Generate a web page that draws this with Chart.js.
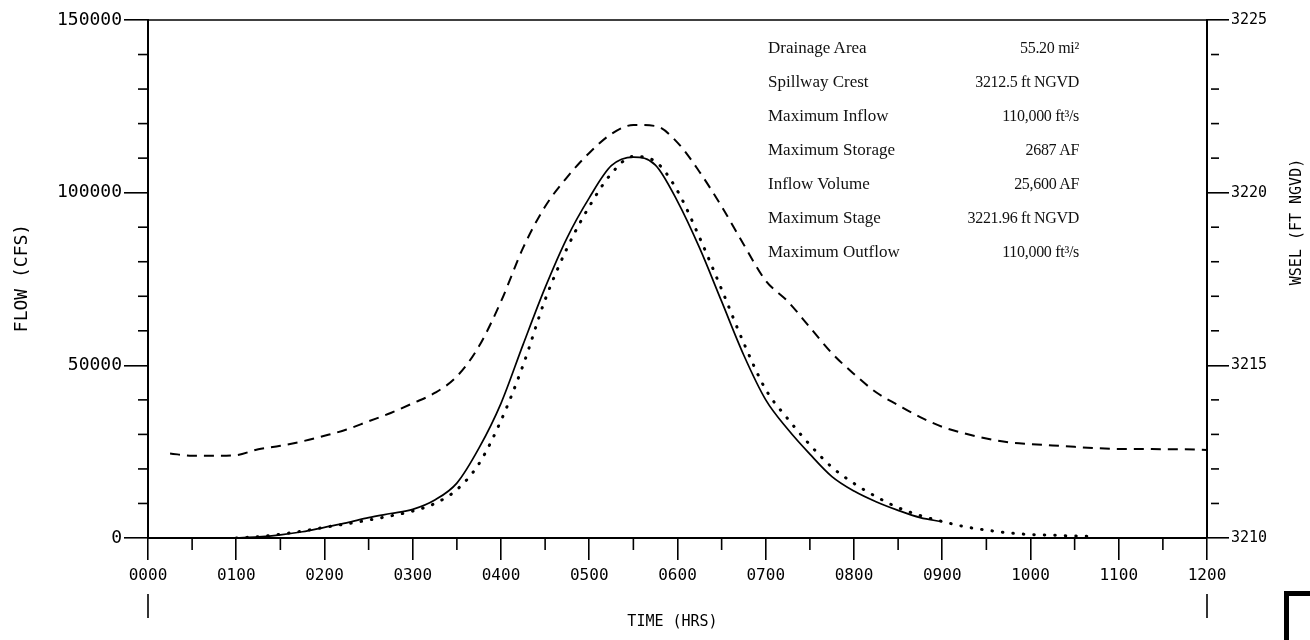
<!DOCTYPE html>
<html>
<head>
<meta charset="utf-8">
<script src="https://cdn.jsdelivr.net/npm/chart.js@4"></script>
<style>
  html, body { margin: 0; padding: 0; background: #fff; }
  #wrap { position: relative; width: 1310px; height: 640px; overflow: hidden; }
  #info { position: absolute; left: 768px; top: 31px; width: 311px; font-family: "Liberation Serif", serif; font-size: 17px; color: #111; }
  #info .row { height: 34px; line-height: 34px; display: flex; justify-content: space-between; }
  #info .val { font-size: 16px; letter-spacing: -0.3px; }
  #corner { position: absolute; left: 1284px; top: 591px; width: 40px; height: 60px; border-left: 5px solid #000; border-top: 5px solid #000; }
</style>
</head>
<body>
<div id="wrap">
  <canvas id="hydrograph" width="1310" height="640"></canvas>
  <div id="info"></div>
  <div id="corner"></div>
</div>
<script>
// time in hours, 15 minute steps
const timeHrs = [0, 0.25, 0.5, 0.75, 1, 1.25, 1.5, 1.75, 2, 2.25, 2.5, 2.75, 3, 3.25, 3.5, 3.75, 4, 4.25, 4.5, 4.75, 5, 5.25, 5.5, 5.75, 6, 6.25, 6.5, 6.75, 7, 7.25, 7.5, 7.75, 8, 8.25, 8.5, 8.75, 9, 9.25, 9.5, 9.75, 10, 10.25, 10.5, 10.75, 11, 11.25, 11.5, 11.75, 12];

// solid line (cfs)
const inflowCfs = [null, null, null, null, 0, 300, 900, 1800, 3100, 4400, 5900, 7100, 8300, 11000, 15900, 26000, 39000, 56000, 72500, 87000, 98500, 107800, 110300, 108000, 97500, 84000, 68500, 53000, 40000, 31500, 24300, 17800, 13600, 10500, 8000, 5900, 4700, null, null, null, null, null, null, null, null, null, null, null, null];

// dotted line (cfs)
const outflowCfs = [null, null, null, null, 0, 400, 1100, 2000, 3100, 4100, 5200, 6400, 7800, 10000, 14000, 21500, 34000, 50000, 69000, 84000, 96000, 105500, 110500, 109000, 100500, 87000, 72000, 56500, 43000, 34500, 27000, 20500, 15800, 12000, 8800, 6500, 4800, 3300, 2300, 1500, 1000, 800, 600, 500, null, null, null, null, null];

// dashed line, water surface elevation (ft NGVD)
const wselFt = [null, 3212.45, 3212.38, 3212.38, 3212.40, 3212.57, 3212.67, 3212.80, 3212.96, 3213.14, 3213.38, 3213.62, 3213.90, 3214.20, 3214.68, 3215.55, 3216.85, 3218.40, 3219.60, 3220.45, 3221.15, 3221.70, 3221.96, 3221.93, 3221.45, 3220.60, 3219.60, 3218.50, 3217.45, 3216.85, 3216.10, 3215.35, 3214.75, 3214.22, 3213.85, 3213.50, 3213.22, 3213.03, 3212.88, 3212.77, 3212.72, 3212.68, 3212.64, 3212.60, 3212.58, 3212.58, 3212.57, 3212.57, 3212.55];

const infoLabels = ["Drainage Area", "Spillway Crest", "Maximum Inflow", "Maximum Storage", "Inflow Volume", "Maximum Stage", "Maximum Outflow"];
const infoValues = ["55.20 mi\u00b2", "3212.5 ft NGVD", "110,000 ft\u00b3/s", "2687 AF", "25,600 AF", "3221.96 ft NGVD", "110,000 ft\u00b3/s"];

const flowTitle = "FLOW (CFS)";
const wselTitle = "WSEL (FT NGVD)";
const timeTitle = "TIME (HRS)";

const plotFont = '"DejaVu Sans Mono", monospace';

document.getElementById("info").innerHTML = infoLabels
  .map((label, i) => `<div class="row"><span>${label}</span><span class="val">${infoValues[i]}</span></div>`)
  .join("");

const toPoints = (values) => timeHrs.map((t, i) => ({ x: t, y: values[i] }));

// minor ticks, frame top, axis titles
const plotterDecor = {
  id: "plotterDecor",
  afterDraw(chart) {
    const { ctx, chartArea } = chart;
    const { x, y, y2 } = chart.scales;
    const seg = (x1, y1, x2, y2p) => { ctx.beginPath(); ctx.moveTo(x1, y1); ctx.lineTo(x2, y2p); ctx.stroke(); };
    ctx.save();
    ctx.strokeStyle = "#000";
    ctx.lineWidth = 1.6;
    seg(chartArea.left - 1, chartArea.top, chartArea.right + 1, chartArea.top);
    for (let v = 10000; v < 150000; v += 10000) {
      if (v % 50000 === 0) continue;
      const py = y.getPixelForValue(v);
      seg(chartArea.left - 10, py, chartArea.left, py);
    }
    for (let v = 3211; v < 3225; v += 1) {
      if (v % 5 === 0) continue;
      const py = y2.getPixelForValue(v);
      seg(chartArea.right + 4, py, chartArea.right + 12, py);
    }
    for (let h = 0.5; h < 12; h += 1) {
      const px = x.getPixelForValue(h);
      seg(px, chartArea.bottom, px, chartArea.bottom + 12);
    }
    [0, 12].forEach((h) => {
      const px = x.getPixelForValue(h);
      seg(px, chartArea.bottom + 56, px, chartArea.bottom + 80);
    });
    ctx.fillStyle = "#000";
    ctx.textAlign = "center";
    ctx.textBaseline = "middle";
    ctx.font = "15px " + plotFont;
    ctx.fillText(timeTitle, (chartArea.left + chartArea.right) / 2 - 5, 622);
    ctx.save();
    ctx.translate(1297, 222);
    ctx.rotate(-Math.PI / 2);
    ctx.fillText(wselTitle, 0, 0);
    ctx.restore();
    ctx.save();
    ctx.font = "18px " + plotFont;
    ctx.translate(22, 278);
    ctx.rotate(-Math.PI / 2);
    ctx.fillText(flowTitle, 0, 0);
    ctx.restore();
    ctx.restore();
  }
};

const axisGrid = (len) => ({ drawOnChartArea: false, drawTicks: true, tickLength: len, color: "#000", lineWidth: 1.6 });
const axisBorder = { display: true, color: "#000", width: 2 };

new Chart(document.getElementById("hydrograph"), {
  type: "line",
  data: {
    datasets: [
      { label: "Inflow", data: toPoints(inflowCfs), yAxisID: "y", borderColor: "#000", borderWidth: 1.7, pointRadius: 0, cubicInterpolationMode: "monotone" },
      { label: "Outflow", data: toPoints(outflowCfs), yAxisID: "y", borderColor: "#000", borderWidth: 3, borderDash: [0.5, 10], borderCapStyle: "round", pointRadius: 0, cubicInterpolationMode: "monotone" },
      { label: "WSEL", data: toPoints(wselFt), yAxisID: "y2", borderColor: "#000", borderWidth: 2, borderDash: [10, 7], pointRadius: 0, cubicInterpolationMode: "monotone" }
    ]
  },
  options: {
    responsive: false,
    animation: false,
    layout: { padding: { top: 20, left: 0, right: 0, bottom: 0 } },
    plugins: { legend: { display: false }, tooltip: { enabled: false } },
    scales: {
      x: {
        type: "linear", min: 0, max: 12,
        ticks: { stepSize: 1, autoSkip: false, maxRotation: 0, padding: 6, color: "#000", font: { family: plotFont, size: 16 }, callback: (v) => String(v * 100).padStart(4, "0") },
        grid: axisGrid(22), border: axisBorder,
        afterFit: (s) => { s.height = 102; }
      },
      y: {
        position: "left", min: 0, max: 150000,
        ticks: { stepSize: 50000, padding: 2, color: "#000", font: { family: plotFont, size: 18 }, callback: (v) => String(v) },
        grid: axisGrid(24), border: axisBorder,
        afterFit: (s) => { s.width = 148; }
      },
      y2: {
        position: "right", min: 3210, max: 3225,
        ticks: { stepSize: 5, padding: 2, color: "#000", font: { family: plotFont, size: 15 }, callback: (v) => String(v) },
        grid: axisGrid(22), border: axisBorder,
        afterFit: (s) => { s.width = 103; }
      }
    }
  },
  plugins: [plotterDecor]
});
</script>
</body>
</html>
